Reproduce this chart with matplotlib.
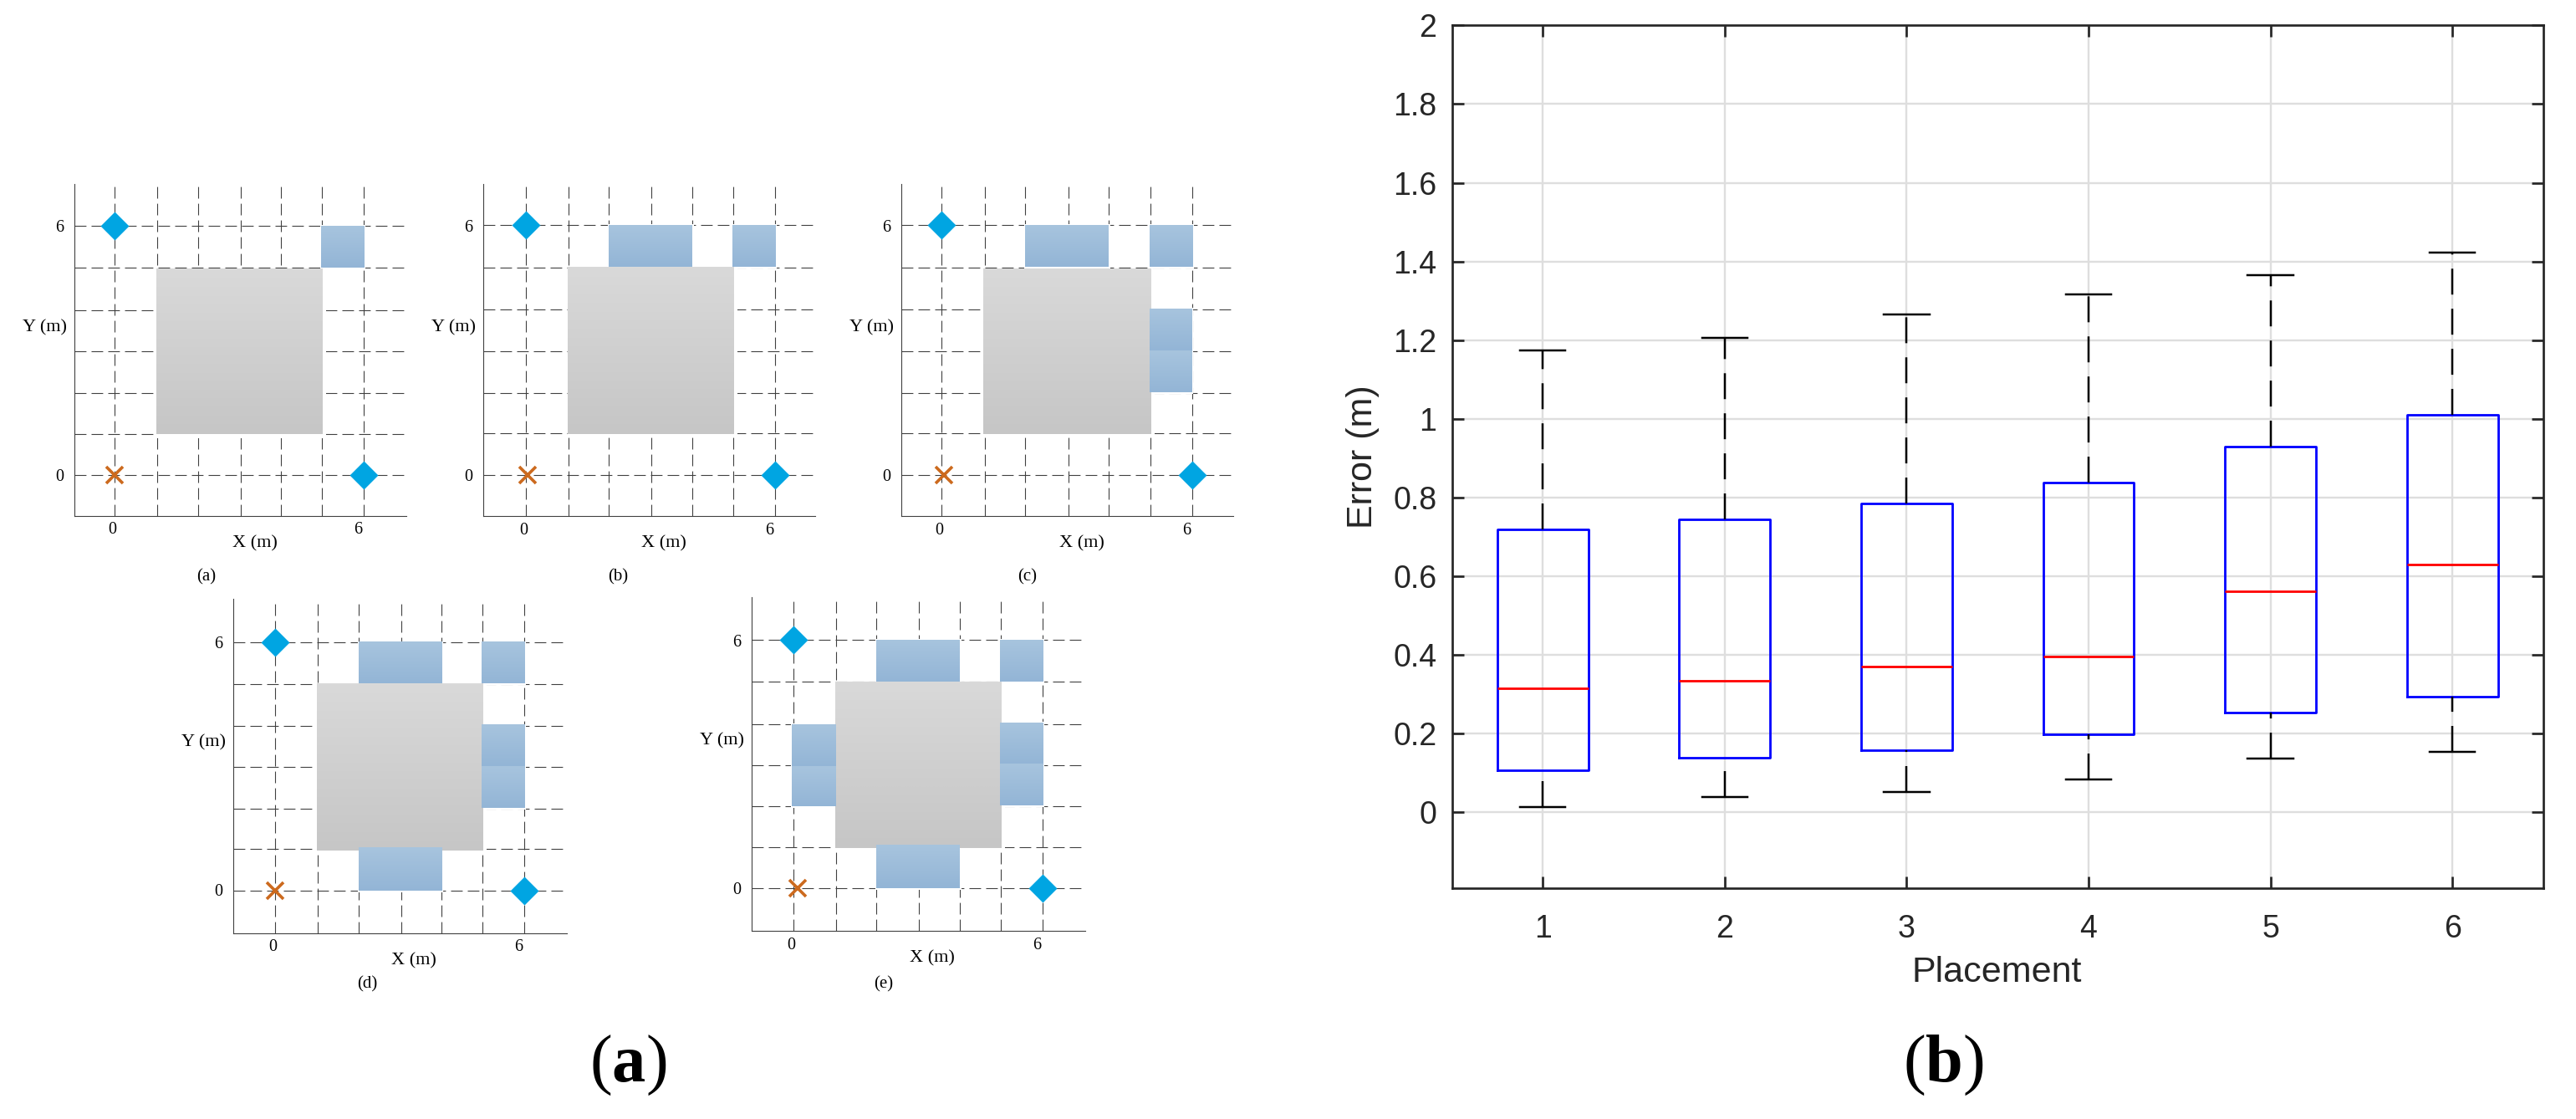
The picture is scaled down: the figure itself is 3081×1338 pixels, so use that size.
import numpy as np
import matplotlib
matplotlib.use("Agg")
import matplotlib.pyplot as plt
from matplotlib.colors import LinearSegmentedColormap
from matplotlib.patches import Rectangle

W, H = 3081, 1338

# right plot: error per placement
placements = [1, 2, 3, 4, 5, 6]
whisker_low = [0.013, 0.040, 0.051, 0.083, 0.136, 0.153]
box_q1 = [0.108, 0.139, 0.158, 0.198, 0.253, 0.295]
box_median = [0.315, 0.334, 0.370, 0.396, 0.561, 0.631]
box_q3 = [0.720, 0.745, 0.786, 0.839, 0.929, 1.010]
whisker_high = [1.173, 1.205, 1.266, 1.316, 1.365, 1.422]
error_ticks = [0, 0.2, 0.4, 0.6, 0.8, 1, 1.2, 1.4, 1.6, 1.8, 2]
error_labels = ["0", "0.2", "0.4", "0.6", "0.8", "1", "1.2", "1.4", "1.6", "1.8", "2"]

# left plots: room layouts in metres
panel_names = ["(a)", "(b)", "(c)", "(d)", "(e)"]
grid_x = [0, 1.03, 2, 3.03, 4, 5, 6]
grid_y = [0, 1, 1.98, 2.98, 3.97, 4.99, 6]
anchors_x = [0, 6]
anchors_y = [6, 0]
cross_x = [0, 0.04, 0.06, 0, 0.09]
gray_box = [
    (1.0, 5.0, 0.99, 4.95),
    (1.0, 5.0, 0.99, 5.0),
    (1.0, 5.0, 0.99, 4.95),
    (1.0, 5.0, 0.97, 5.0),
    (1.0, 5.0, 0.98, 5.0),
]
top_right = (4.97, 6, 5, 6)
top_mid = (2, 4, 5, 6)
bottom_mid = (2, 4, 0, 1.04)
right_up = (4.97, 6, 3, 4)
right_low = (4.97, 6, 2, 3)
right_up_c = (4.97, 5.97, 3, 4)
right_low_c = (4.97, 5.97, 2, 3)
left_up = (-0.05, 1, 2.94, 3.97)
left_low = (-0.05, 1, 1.99, 2.94)
blue_boxes = [
    [top_right],
    [top_mid, top_right],
    [top_mid, top_right, right_up_c, right_low_c],
    [top_mid, top_right, right_up, right_low, bottom_mid],
    [top_mid, top_right, right_up, right_low, bottom_mid, left_up, left_low],
]

# pixel layout: left, right, top, bottom, x=0, x=6, y=6, y=0, caption x, caption y
panel_px = [
    (89.3, 486, 219.7, 617, 137.3, 435, 269.8, 568.3, 247, 690),
    (578.3, 975, 220, 617.3, 629.3, 926.7, 269.3, 568.3, 739, 690),
    (1078.3, 1475, 220, 617.3, 1126.3, 1426.3, 269.3, 568.3, 1229, 690),
    (279.3, 678, 716, 1115.6, 329.3, 627, 767.6, 1064.7, 439, 1177),
    (899.3, 1298, 714, 1113.3, 949.3, 1246.7, 765.3, 1062.3, 1057, 1177),
]

plt.rcParams["font.family"] = "Liberation Serif"
plt.rcParams["lines.scale_dashes"] = False
plt.rcParams["mathtext.fontset"] = "custom"
plt.rcParams["mathtext.rm"] = "Liberation Serif"
plt.rcParams["mathtext.bf"] = "Liberation Serif:bold"

PX = 0.72  # points per pixel at dpi 100
LINE = "#404040"
blue_map = LinearSegmentedColormap.from_list("blue", ["#a7c4de", "#93b5d6"])
gray_map = LinearSegmentedColormap.from_list("gray", ["#d9d9d9", "#c6c6c6"])
ramp = np.linspace(0, 1, 64).reshape(-1, 1)


def px_axes(fig, left, right, top, bottom):
    return fig.add_axes([left / W, 1 - bottom / H, (right - left) / W, (bottom - top) / H])


def px_text(fig, x, y, s, **kwargs):
    return fig.text(x / W, 1 - y / H, s, ha=kwargs.pop("ha", "center"), va=kwargs.pop("va", "center"), **kwargs)


def fill_box(ax, box, cmap, z):
    x0, x1, y0, y1 = box
    # margin sits under the gray block, it only cuts the grid lines
    ax.add_patch(Rectangle((x0, y0), x1 - x0, y1 - y0, fc="white", ec="white", lw=3 * PX, zorder=2.5))
    ax.imshow(ramp, extent=(x0, x1, y0, y1), cmap=cmap, vmin=0, vmax=1, aspect="auto", zorder=z, interpolation="bilinear")


def draw_panel(fig, i):
    left, right, top, bottom, x_0, x_6, y_6, y_0, cap_x, cap_y = panel_px[i]
    ax = px_axes(fig, left, right, top, bottom)
    sx = (x_6 - x_0) / 6
    sy = (y_0 - y_6) / 6
    xlim = ((left - x_0) / sx, (right - x_0) / sx)
    ylim = ((y_0 - bottom) / sy, (y_0 - top) / sy)

    dash = (0, (10, 4.4))
    for x in grid_x:
        ax.axvline(x, color=LINE, lw=1.1 * PX, ls=dash, zorder=1)
    for y in grid_y:
        ax.axhline(y, color=LINE, lw=1.1 * PX, ls=dash, zorder=1)

    # white margin that cuts the grid lines right of and under the gray block
    gx0, gx1, gy0, gy1 = gray_box[i]
    ax.add_patch(Rectangle((gx0, gy0 - 0.09), gx1 - gx0 + 0.1, gy1 - gy0 + 0.09, fc="white", ec="none", zorder=2))
    ax.imshow(ramp, extent=gray_box[i], cmap=gray_map, vmin=0, vmax=1, aspect="auto", zorder=3, interpolation="bilinear")
    for box in blue_boxes[i]:
        fill_box(ax, box, blue_map, 5)

    ax.plot(anchors_x, anchors_y, ls="none", marker="D", ms=17.4, mfc="#00a5e2", mec="none", zorder=6, clip_on=False)
    ax.plot([cross_x[i]], [0], ls="none", marker="x", ms=14.4, mew=2.6, mec="#cc6a1e", zorder=6)

    ax.set_xlim(xlim)
    ax.set_ylim(ylim)
    ax.set_xticks([])
    ax.set_yticks([])
    ax.patch.set_alpha(0)
    for side in ["top", "right"]:
        ax.spines[side].set_visible(False)
    for side in ["left", "bottom"]:
        ax.spines[side].set_color(LINE)
        ax.spines[side].set_linewidth(1.1 * PX)

    size = 14.5
    px_text(fig, x_0 - 3, bottom + 17, "0", fontsize=size)
    px_text(fig, x_6 - 7, bottom + 17, "6", fontsize=size)
    px_text(fig, left - 18, y_6 + 3, "6", fontsize=size)
    px_text(fig, left - 18, y_0 + 2, "0", fontsize=size)
    px_text(fig, left + 216, bottom + 33, "X (m)", fontsize=16)
    px_text(fig, left - 9, top + 172, "Y (m)", fontsize=16, ha="right")
    px_text(fig, cap_x, cap_y, panel_names[i], fontsize=15)


def draw_boxes(fig):
    ax = px_axes(fig, 1736.5, 3042, 30.3, 1062.3)
    stats = []
    for i in range(len(placements)):
        stats.append({"whislo": whisker_low[i], "q1": box_q1[i], "med": box_median[i],
                      "q3": box_q3[i], "whishi": whisker_high[i], "fliers": []})
    parts = ax.bxp(
        stats,
        positions=placements,
        widths=0.5,
        capwidths=0.25,
        showfliers=False,
        boxprops={"color": "#0000ff", "lw": 2.8 * PX},
        medianprops={"color": "#ff0000", "lw": 2.8 * PX, "solid_capstyle": "butt"},
        whiskerprops={"color": "black", "lw": 2.5 * PX, "ls": (0, (22.3, 12.2))},
        capprops={"color": "black", "lw": 2.5 * PX},
    )
    # lower whiskers start their dash pattern at the cap
    for line in parts["whiskers"][::2]:
        line.set_ydata(line.get_ydata()[::-1])

    ax.set_xlim(0.5, 6.5)
    ax.set_ylim(-0.193, 2)
    ax.set_xticks(placements)
    ax.set_xticklabels([str(p) for p in placements])
    ax.set_yticks(error_ticks)
    ax.set_yticklabels(error_labels)
    ax.set_axisbelow(True)
    ax.grid(True, color="#dedede", lw=2.4 * PX)
    ax.tick_params(axis="both", direction="in", length=14 * PX, width=2.7 * PX, color="#262626",
                   top=True, right=True, labelcolor="#262626", labelsize=27)
    ax.tick_params(axis="y", pad=13)
    ax.tick_params(axis="x", pad=22)
    for lbl in ax.get_xticklabels() + ax.get_yticklabels():
        lbl.set_fontfamily("Liberation Sans")
    for spine in ax.spines.values():
        spine.set_color("#262626")
        spine.set_linewidth(2.7 * PX)

    px_text(fig, 2388, 1163, "Placement", fontsize=31, family="Liberation Sans", color="#262626")
    px_text(fig, 1630, 546, "Error (m)", fontsize=31, family="Liberation Sans", color="#262626", rotation=90)


fig = plt.figure(figsize=(W / 100, H / 100), dpi=100)
for i in range(len(panel_names)):
    draw_panel(fig, i)
draw_boxes(fig)
px_text(fig, 751.5, 1274, r"($\mathbf{a}$)", fontsize=58, color="black")
px_text(fig, 2324, 1274, r"($\mathbf{b}$)", fontsize=58, color="black")
fig.savefig("out.png", dpi=100)
plt.close(fig)
